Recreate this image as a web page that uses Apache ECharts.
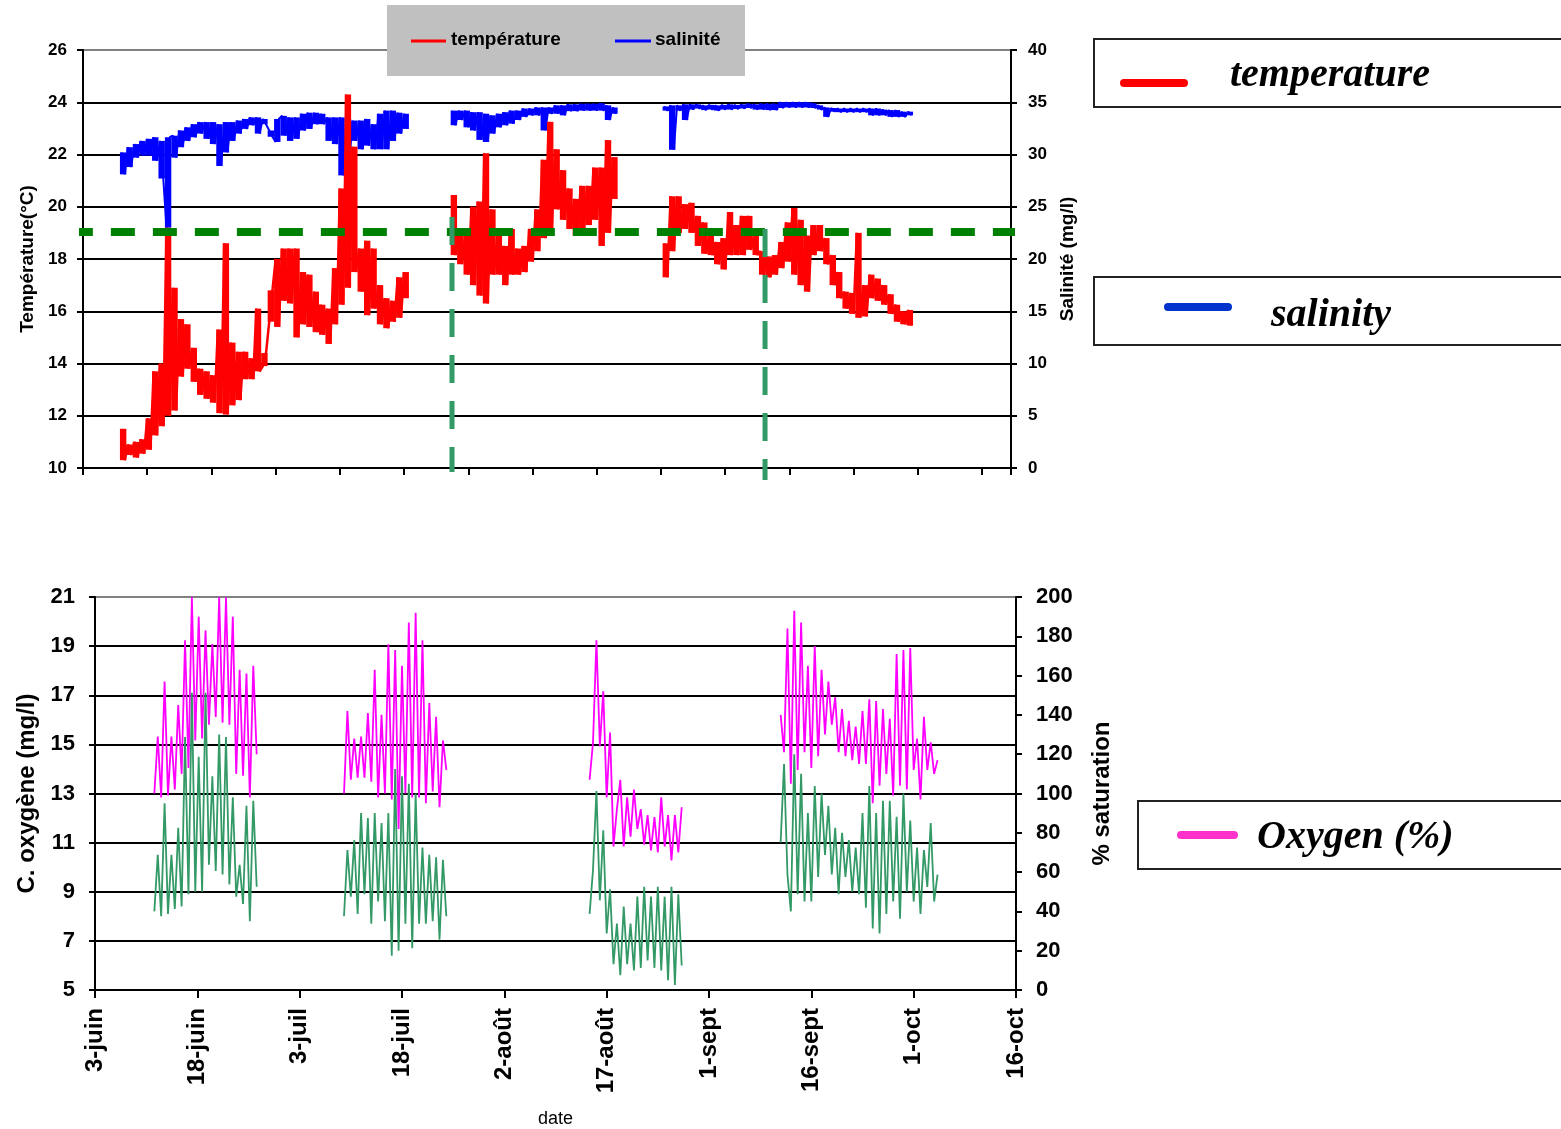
<!DOCTYPE html>
<html><head><meta charset="utf-8">
<script src="https://cdn.jsdelivr.net/npm/echarts@6/dist/echarts.min.js"></script>
<style>html,body{margin:0;padding:0;background:#fff}#c{width:1561px;height:1129px}</style>
</head><body><div id="c"></div>
<script>
// ================= DATA =================
const SAMPLE_STEP = 0.5;

// ---- top panel: unlabelled time index (ticks every 10) ----
const tempSeg1Start = 6;
const temperatureSeg1 = [11.5,10.3, 10.9,10.5, 11.0,10.4, 11.1,10.55, 11.9,10.7, 13.7,11.25, 14.0,11.6, 19.2,12.0, 16.9,12.2, 15.7,13.5,
  15.5,13.8, 14.6,13.3, 13.8,12.8, 13.7,12.65, 13.55,12.5, 15.3,12.1, 18.6,12.05, 14.8,12.4, 14.45,12.6, 14.45,13.4,
  14.2,13.4, 16.1,13.7, 13.9,14.4, 15.6,16.8, 18.0,15.4, 18.4,16.4, 18.4,16.3, 18.4,15.0, 17.5,15.5, 17.4,15.4,
  16.75,15.2, 16.25,15.1, 16.1,14.75, 17.65,15.5, 20.7,16.25, 24.3,16.9, 22.3,17.5, 18.4,16.75, 18.7,15.85, 18.4,16.1,
  17.0,15.5, 16.5,15.35, 16.4,15.6, 17.3,15.75, 17.5,16.5];
const salinitySeg1 = [30.2,28.1, 30.7,28.8, 31.0,29.7, 31.3,29.9, 31.5,29.9, 31.65,29.4, 31.3,27.7, 23.0,31.65, 31.8,29.7, 32.3,30.7,
  32.6,31.3, 32.9,31.65, 33.1,32.0, 33.1,31.5, 33.1,31.0, 32.9,28.9, 33.1,30.2, 33.1,31.3, 33.25,32.0, 33.4,32.45,
  33.55,32.8, 33.55,32.0, 33.4,32.9, 32.3,31.7, 31.2,33.4, 33.7,31.8, 33.55,31.3, 33.55,31.5, 33.9,32.3, 34.0,32.45,
  34.0,32.9, 33.9,32.9, 33.55,31.3, 33.55,31.0, 33.55,28.0, 33.4,29.7, 33.25,31.3, 33.25,30.5, 33.4,30.85, 32.9,30.5,
  33.9,30.5, 34.2,30.5, 34.2,31.3, 34.0,32.0, 33.9,32.45];

const tempSeg2Start = 57.5;
const temperatureSeg2 = [20.45,18.15, 19.0,17.8, 18.9,17.4, 20.0,17.0, 20.2,16.6, 22.05,16.3, 19.9,17.4, 18.9,17.4, 18.5,17.0, 19.15,17.4,
  18.4,17.4, 18.5,17.5, 19.15,17.9, 19.9,18.3, 21.8,18.8, 23.25,19.15, 22.2,19.9, 21.4,19.5, 20.7,19.15, 20.3,18.9,
  20.8,19.15, 20.8,19.3, 21.5,19.5, 21.5,18.5, 22.55,19.0, 21.9,20.3];
const salinitySeg2 = [34.2,32.8, 34.2,33.3, 34.2,32.6, 34.05,32.3, 34.05,31.4, 33.9,31.2, 33.75,32.0, 33.9,32.6, 34.05,32.8, 34.2,32.95,
  34.2,33.3, 34.4,33.6, 34.4,33.75, 34.5,33.75, 34.5,32.3, 34.5,33.9, 34.7,33.9, 34.7,33.75, 34.8,34.15, 34.8,34.15,
  34.85,34.2, 34.85,34.2, 34.85,34.2, 34.9,34.2, 34.7,33.3, 34.5,33.9];

const tempSeg3Start = 90.5;
const temperatureSeg3 = [18.6,17.3, 20.4,18.3, 20.4,19.0, 20.1,19.15, 20.15,19.0, 19.65,18.5, 19.4,18.2, 18.9,18.15, 18.65,17.8, 18.8,17.6,
  19.8,18.15, 19.3,18.15, 19.65,18.15, 19.65,18.35, 18.9,18.15, 18.3,17.4, 18.1,17.3, 18.15,17.4, 18.65,17.65, 19.4,17.9,
  19.95,17.4, 19.5,17.0, 18.9,16.75, 19.3,18.15, 19.3,18.3, 18.8,17.8, 18.15,17.0, 17.5,16.5, 16.75,16.1, 16.7,15.9,
  19.0,15.75, 17.0,15.8, 17.4,16.5, 17.25,16.4, 17.0,16.25, 16.65,15.9, 16.25,15.6, 16.0,15.5, 16.05,15.45];
const salinitySeg3 = [34.6,34.2, 34.7,30.45, 34.7,34.2, 34.8,33.3, 34.8,34.3, 34.8,34.4, 34.7,34.25, 34.75,34.3, 34.7,34.2, 34.75,34.3,
  34.8,34.3, 34.75,34.35, 34.8,34.4, 34.85,34.45, 34.8,34.3, 34.85,34.3, 34.85,34.25, 34.85,34.25, 35.0,34.45, 35.0,34.5,
  35.0,34.5, 35.0,34.5, 35.0,34.5, 34.9,34.45, 34.7,34.3, 34.5,33.6, 34.45,34.1, 34.4,34.05, 34.4,34.05, 34.4,34.05,
  34.4,34.05, 34.4,34.05, 34.4,33.75, 34.4,33.75, 34.3,33.75, 34.25,33.6, 34.25,33.6, 34.1,33.6, 34.1,33.75];

// reference lines of the top panel (index, °C)
const thresholdTemp = 19.03;
const thresholdSpan = [-2.2, 145.6];
const eventMarks = [ {x: 57.46, from: 19.61, to: 9.85}, {x: 106.2, from: 19.15, to: 9.54} ];

// ---- bottom panel: days after 3 June ----
const dateLabels = ['3-juin','18-juin','3-juil','18-juil','2-août','17-août','1-sept','16-sept','1-oct','16-oct'];

const oxySeg1Start = 8.7;
const oxyPctSeg1 = [100,129, 98,157, 99,129, 102,145, 110,178, 113,200, 127,190, 128,183, 135,176, 139,200, 136,200, 135,190, 110,163, 109,161, 98,165, 120];
const oxyMgSeg1  = [8.2,10.5, 8.0,12.6, 8.1,10.5, 8.3,11.6, 8.4,15.3, 8.9,17.1, 9.0,14.5, 9.0,17.1, 10.1,13.7, 9.85,15.4, 9.7,15.3, 9.3,12.85, 8.8,10.1, 8.5,12.5, 7.8,12.7, 9.2];

const oxySeg2Start = 36.5;
const oxyPctSeg2 = [100,142, 107,128, 108,129, 108,141, 106,163, 98,140, 100,176, 97,173, 82,165, 100,187, 98,192, 98,178, 95,146, 101,139, 93,127, 112];
const oxyMgSeg2  = [8.0,10.7, 8.8,11.1, 8.1,12.2, 8.9,12.0, 7.7,12.2, 8.6,11.8, 7.8,12.2, 6.4,14.0, 6.6,13.7, 7.7,13.4, 6.7,13.0, 7.7,10.8, 7.7,10.5, 7.8,10.4, 7.05,10.3, 8.0];

const oxySeg3Start = 72.5;
const oxyPctSeg3 = [107,126, 178,124, 152,98, 131,73, 92,107, 73,98, 78,102, 82,92, 74,89, 71,88, 70,98, 73,89, 66,89, 70,93];
const oxyMgSeg3  = [8.1,9.9, 13.1,8.65, 11.5,7.3, 9.1,6.05, 7.7,5.6, 8.4,6.05, 7.7,5.8, 8.8,5.9, 9.2,6.2, 8.8,5.9, 9.2,5.8, 8.8,5.4, 9.2,5.2, 8.9,6.0];

const oxySeg4Start = 100.5;
const oxyPctSeg4 = [140,121, 184,105, 193,112, 187,121, 165,113, 175,119, 163,130, 157,135, 149,121, 143,119, 137,117, 134,115, 142,115, 148,95,
  147,104, 143,110, 138,99, 171,104, 173,102, 174,112, 128,97, 139,112, 126,110, 117];
const oxyMgSeg4  = [11.0,14.2, 9.7,8.2, 14.6,8.9, 13.8,8.6, 12.2,8.6, 13.3,9.6, 13.0,10.5, 12.5,9.7, 11.6,8.9, 11.4,9.6, 11.1,9.0, 10.8,8.9, 12.2,8.35, 13.3,7.5,
  12.2,7.3, 12.7,8.1, 12.7,8.6, 12.05,7.9, 13.0,9.0, 11.9,8.6, 10.8,8.1, 10.7,9.2, 11.8,8.6, 9.7];

// ================= BUILD =================
function seg(start, values) { return values.map((v, i) => [start + i * SAMPLE_STEP, v]); }
function joined(...segs) {
  const out = [];
  segs.forEach((s, k) => { if (k) out.push([s[0][0] - 0.05, '-']); out.push(...s); });
  return out;
}
// dense trace drawn as the min–max range of each pair of consecutive samples
function band(start, values) {
  const out = [];
  for (let i = 0; i + 1 < values.length; i += 2) {
    const x = start + i * SAMPLE_STEP;
    out.push([x - 0.25, x + 0.75, Math.min(values[i], values[i + 1]), Math.max(values[i], values[i + 1])]);
  }
  return out;
}
const tempData = joined(seg(tempSeg1Start, temperatureSeg1), seg(tempSeg2Start, temperatureSeg2), seg(tempSeg3Start, temperatureSeg3));
const salData = joined(seg(tempSeg1Start, salinitySeg1), seg(tempSeg2Start, salinitySeg2), seg(tempSeg3Start, salinitySeg3));
const tempBand = [...band(tempSeg1Start, temperatureSeg1), ...band(tempSeg2Start, temperatureSeg2), ...band(tempSeg3Start, temperatureSeg3)];
const salBand = [...band(tempSeg1Start, salinitySeg1), ...band(tempSeg2Start, salinitySeg2), ...band(tempSeg3Start, salinitySeg3)];
const pctData = joined(seg(oxySeg1Start, oxyPctSeg1), seg(oxySeg2Start, oxyPctSeg2), seg(oxySeg3Start, oxyPctSeg3), seg(oxySeg4Start, oxyPctSeg4));
const mgData = joined(seg(oxySeg1Start, oxyMgSeg1), seg(oxySeg2Start, oxyMgSeg2), seg(oxySeg3Start, oxyMgSeg3), seg(oxySeg4Start, oxyMgSeg4));

const FONT = "'Liberation Sans', Arial, sans-serif";
const SERIF = "'Liberation Serif', 'Times New Roman', serif";
const BLK = '#000';
const gridColors = ['#000','#000','#000','#000','#000','#000','#000','#000','#808080'];

function yAx(grid, min, max, interval, pos, name, nameGap, fs, labelMargin, showSplit, nameFs) {
  return {
    gridIndex: grid, type: 'value', min, max, interval, position: pos,
    name, nameLocation: 'middle', nameGap, nameRotate: 90,
    nameTextStyle: { fontFamily: FONT, fontWeight: 'bold', fontSize: nameFs, color: BLK },
    axisLine: { show: true, lineStyle: { color: BLK, width: 2 } },
    axisTick: { show: true, length: 6, lineStyle: { color: BLK, width: 2 } },
    axisLabel: { fontFamily: FONT, fontWeight: 'bold', fontSize: fs, color: BLK, margin: labelMargin },
    splitLine: { show: showSplit, lineStyle: { color: gridColors, width: 2 } }
  };
}
function bandSeries(data, yAxisIndex, color, z) {
  return {
    type: 'custom', xAxisIndex: 0, yAxisIndex, data, z, silent: true,
    encode: { x: [0, 1], y: [2, 3] },
    renderItem: (params, api) => {
      const p0 = api.coord([api.value(0), api.value(3)]);
      const p1 = api.coord([api.value(1), api.value(2)]);
      return { type: 'rect', shape: { x: p0[0], y: p0[1], width: p1[0] - p0[0], height: Math.max(p1[1] - p0[1], 1) },
               style: { fill: color } };
    }
  };
}

const chart = echarts.init(document.getElementById('c'), null, { renderer: 'canvas' });
chart.setOption({
  animation: false,
  backgroundColor: '#fff',
  grid: [
    { left: 83, top: 50, width: 928, height: 418 },
    { left: 95, top: 597, width: 921, height: 393 }
  ],
  xAxis: [
    { gridIndex: 0, type: 'value', min: 0, max: 144.5, interval: 10,
      axisLine: { show: true, onZero: false, lineStyle: { color: BLK, width: 2 } },
      axisTick: { show: true, length: 7, lineStyle: { color: BLK, width: 2 } },
      axisLabel: { show: false }, splitLine: { show: false } },
    { gridIndex: 1, type: 'value', min: 0, max: 135, interval: 15,
      name: 'date', nameLocation: 'middle', nameGap: 120,
      nameTextStyle: { fontFamily: FONT, fontSize: 18, color: BLK },
      axisLine: { show: true, onZero: false, lineStyle: { color: BLK, width: 2 } },
      axisTick: { show: true, length: 8, lineStyle: { color: BLK, width: 2 } },
      axisLabel: { rotate: 90, margin: 18, fontFamily: FONT, fontWeight: 'bold', fontSize: 24, color: BLK,
        formatter: v => dateLabels[Math.round(v / 15)] || '' },
      splitLine: { show: false } }
  ],
  yAxis: [
    yAx(0, 10, 26, 2, 'left', 'Température(°C)', 46, 17, 16, true, 19),
    yAx(0, 0, 40, 5, 'right', 'Salinité (mg/l)', 42, 17, 17, false, 19),
    yAx(1, 5, 21, 2, 'left', 'C. oxygène (mg/l)', 56, 22, 20, true, 24),
    yAx(1, 0, 200, 20, 'right', '% saturation', 74, 22, 20, false, 24)
  ],
  series: [
    bandSeries(salBand, 1, '#0000FF', 2),
    { name: 'salinité', type: 'line', xAxisIndex: 0, yAxisIndex: 1, data: salData, symbol: 'none',
      lineStyle: { color: '#0000FF', width: 2 }, connectNulls: false, z: 2 },
    bandSeries(tempBand, 0, '#FF0000', 3),
    { name: 'température', type: 'line', xAxisIndex: 0, yAxisIndex: 0, data: tempData, symbol: 'none',
      lineStyle: { color: '#FF0000', width: 2.5 }, connectNulls: false, z: 3 },
    { name: 'seuil', type: 'line', xAxisIndex: 0, yAxisIndex: 0, symbol: 'none', clip: false, z: 4,
      data: thresholdSpan.map(x => [x, thresholdTemp]),
      lineStyle: { color: '#008000', width: 8, type: [24, 18] } },
    ...eventMarks.map(m => ({ type: 'line', xAxisIndex: 0, yAxisIndex: 0, symbol: 'none', clip: false, z: 4,
      data: [[m.x, m.from], [m.x, m.to]],
      lineStyle: { color: '#339966', width: 5, type: [28, 18] } })),
    { name: 'Oxygen (%)', type: 'line', xAxisIndex: 1, yAxisIndex: 3, data: pctData, symbol: 'none',
      lineStyle: { color: '#FF00FF', width: 1.8 }, connectNulls: false, z: 2 },
    { name: 'Oxygen (mg/l)', type: 'line', xAxisIndex: 1, yAxisIndex: 2, data: mgData, symbol: 'none',
      lineStyle: { color: '#339966', width: 1.8 }, connectNulls: false, z: 3 }
  ],
  graphic: [
    // Excel legend of the top panel
    { type: 'rect', left: 387, top: 5, shape: { width: 358, height: 71 }, style: { fill: '#C0C0C0' }, z: 10 },
    { type: 'line', shape: { x1: 411, y1: 41, x2: 446, y2: 41 }, style: { stroke: '#FF0000', lineWidth: 3 }, z: 11 },
    { type: 'text', x: 451, y: 40, style: { text: 'température', font: "bold 19px " + FONT, fill: BLK, verticalAlign: 'middle' }, z: 11 },
    { type: 'line', shape: { x1: 615, y1: 41, x2: 651, y2: 41 }, style: { stroke: '#0000FF', lineWidth: 3 }, z: 11 },
    { type: 'text', x: 655, y: 40, style: { text: 'salinité', font: "bold 19px " + FONT, fill: BLK, verticalAlign: 'middle' }, z: 11 },
    // Right-hand legend boxes
    { type: 'rect', shape: { x: 1094, y: 39, width: 520, height: 68 }, style: { fill: '#fff', stroke: '#222', lineWidth: 2 }, z: 10 },
    { type: 'line', shape: { x1: 1124, y1: 83, x2: 1184, y2: 83 }, style: { stroke: '#FF0000', lineWidth: 8, lineCap: 'round' }, z: 11 },
    { type: 'text', x: 1230, y: 76, style: { text: 'temperature', font: "italic bold 40px " + SERIF, fill: BLK, verticalAlign: 'middle' }, z: 11 },
    { type: 'rect', shape: { x: 1094, y: 277, width: 520, height: 68 }, style: { fill: '#fff', stroke: '#222', lineWidth: 2 }, z: 10 },
    { type: 'line', shape: { x1: 1168, y1: 307, x2: 1228, y2: 307 }, style: { stroke: '#0033CC', lineWidth: 8, lineCap: 'round' }, z: 11 },
    { type: 'text', x: 1271, y: 316, style: { text: 'salinity', font: "italic bold 40px " + SERIF, fill: BLK, verticalAlign: 'middle' }, z: 11 },
    { type: 'rect', shape: { x: 1138, y: 801, width: 480, height: 68 }, style: { fill: '#fff', stroke: '#222', lineWidth: 2 }, z: 10 },
    { type: 'line', shape: { x1: 1181, y1: 835, x2: 1234, y2: 835 }, style: { stroke: '#FF33CC', lineWidth: 8, lineCap: 'round' }, z: 11 },
    { type: 'text', x: 1257, y: 838, style: { text: 'Oxygen (%)', font: "italic bold 40px " + SERIF, fill: BLK, verticalAlign: 'middle' }, z: 11 }
  ]
});
</script></body></html>
